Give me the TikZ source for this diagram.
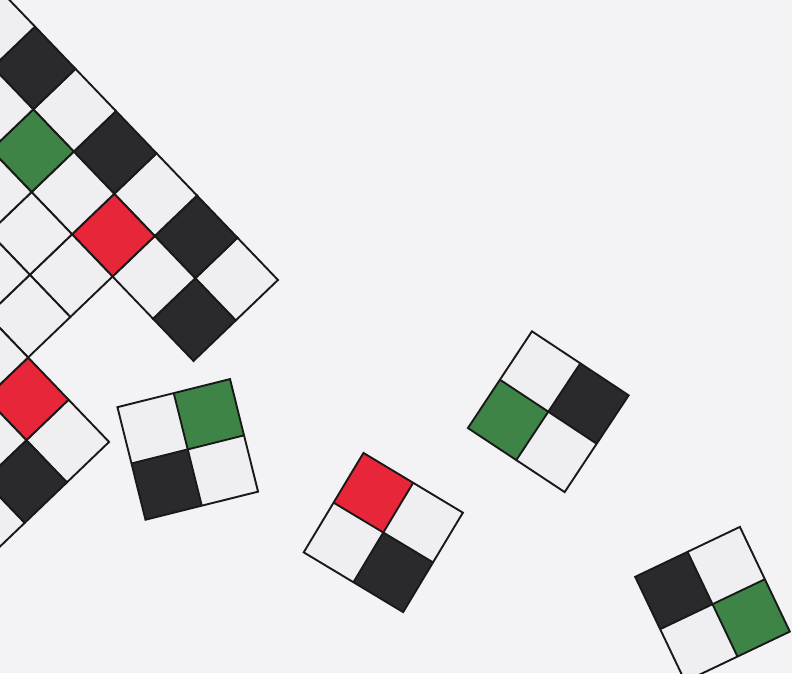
\documentclass[tikz,border=0pt]{standalone}
\definecolor{bgcol}{HTML}{F3F3F6}
\definecolor{cellw}{HTML}{EFEFF1}
\definecolor{cellk}{HTML}{2A2A2C}
\definecolor{cellg}{HTML}{3D8446}
\definecolor{cellr}{HTML}{E8263A}
\tikzset{
  edge/.style={draw=black!90, line width=1.9pt, line join=miter},
  W/.style={fill=cellw}, K/.style={fill=cellk}, G/.style={fill=cellg}, R/.style={fill=cellr}
}
% one cell of the big grid: row, column, colour style
\newcommand\gcell[3]{\path[#3, edge] ({(#2-0.5)*58.5},{(#1-0.5)*58.5}) rectangle ++(58.5,58.5);}
% a 2x2 tile: x, y, rotate, TL, TR, BL, BR
\newcommand\quadtile[7]{%
  \begin{scope}[shift={(#1,#2)}, rotate=#3]
    \fill[#4] (-58,-58) rectangle (0,0);
    \fill[#5] (0,-58) rectangle (58,0);
    \fill[#6] (-58,0) rectangle (0,58);
    \fill[#7] (0,0) rectangle (58,58);
    \draw[edge] (-58,-58) rectangle (58,58);
    \draw[edge] (0,-58) -- (0,58);
    \draw[edge] (-58,0) -- (58,0);
  \end{scope}}
\begin{document}
\begin{tikzpicture}[x=1pt, y=-1pt]
  \useasboundingbox (0,0) rectangle (792,673);
  \fill[bgcol] (0,0) rectangle (792,673);
  \clip (0,0) rectangle (792,673);
  % big staircase grid
  \begin{scope}[shift={(236.6,279.1)}, rotate=-46.2]
    % row 0
    \gcell{0}{0}{W}\gcell{0}{-1}{K}\gcell{0}{-2}{W}\gcell{0}{-3}{K}
    \gcell{0}{-4}{W}\gcell{0}{-5}{K}\gcell{0}{-6}{W}\gcell{0}{-7}{K}
    % row 1
    \gcell{1}{0}{K}\gcell{1}{-1}{W}\gcell{1}{-2}{R}\gcell{1}{-3}{W}
    \gcell{1}{-4}{G}\gcell{1}{-5}{W}\gcell{1}{-6}{W}
    % row 2
    \gcell{2}{-2}{W}\gcell{2}{-3}{W}\gcell{2}{-4}{W}\gcell{2}{-5}{W}
    % row 3
    \gcell{3}{-2}{W}\gcell{3}{-3}{W}\gcell{3}{-4}{W}
    % row 4
    \gcell{4}{0}{W}\gcell{4}{-1}{R}\gcell{4}{-2}{W}\gcell{4}{-3}{W}
    % row 5
    \gcell{5}{0}{K}\gcell{5}{-1}{W}\gcell{5}{-2}{W}
    % row 6
    \gcell{6}{0}{W}\gcell{6}{-1}{W}
    \gcell{7}{0}{W}
  \end{scope}
  % loose 2x2 tiles
  \quadtile{187.75}{449.4}{14}{W}{G}{K}{W}
  \quadtile{383.3}{532.5}{-31}{R}{W}{W}{K}
  \quadtile{548.3}{411.7}{-33.5}{W}{K}{G}{W}
  \quadtile{712.5}{604.2}{25.5}{K}{W}{W}{G}
\end{tikzpicture}
\end{document}
